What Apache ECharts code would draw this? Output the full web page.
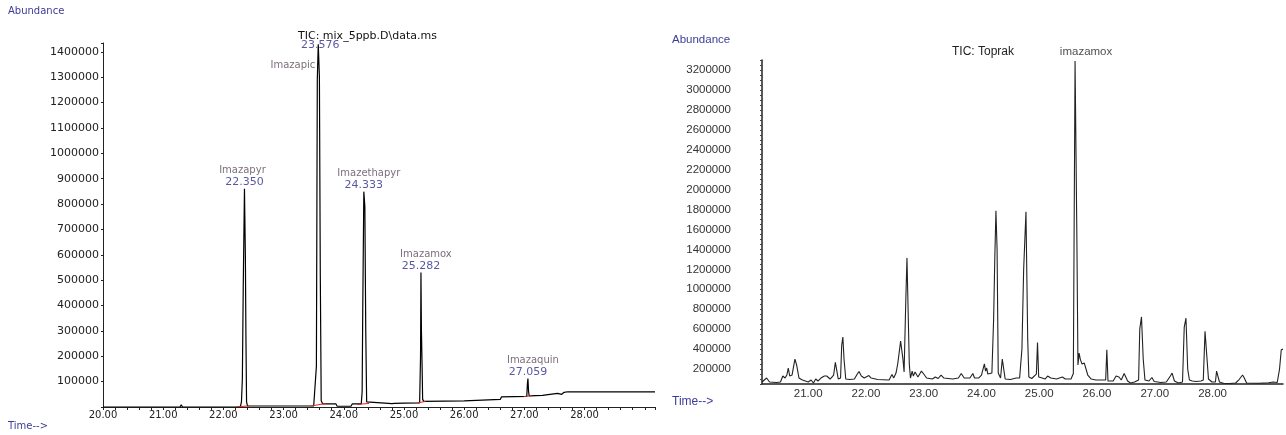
<!DOCTYPE html>
<html>
<head>
<meta charset="utf-8">
<script src="https://cdn.jsdelivr.net/npm/echarts@6/dist/echarts.min.js"></script>
<style>html,body{margin:0;padding:0;background:#fff}#c{width:1286px;height:435px}</style>
</head>
<body>
<div id="c"></div>
<script>
// ---------- Left chromatogram: TIC mix_5ppb ----------
const leftTime = [20.00,21.28,21.30,21.32,22.28,22.30,22.315,22.33,22.35,22.365,22.375,22.385,22.40,22.90,22.92,22.94,23.50,23.545,23.56,23.576,23.595,23.61,23.625,23.65,23.78,23.80,23.83,23.87,23.89,24.12,24.14,24.29,24.305,24.315,24.333,24.35,24.365,24.38,24.40,24.80,24.82,24.84,25.00,25.26,25.275,25.282,25.29,25.30,25.31,25.33,26.00,26.02,26.60,26.62,26.64,27.04,27.05,27.059,27.07,27.08,27.30,27.32,27.55,27.58,27.62,27.66,27.72,29.00,29.02,29.05,29.17];
const leftAbund = [0,0,9000,0,0,20000,110000,480000,860000,600000,260000,20000,4000,4000,10000,4000,4000,160000,1290000,1430000,1300000,513000,25000,12000,12000,5000,12000,12000,3000,3000,12000,12000,60000,380000,849000,790000,300000,20000,13000,13000,16000,14000,15000,16000,200000,530000,300000,175000,30000,22000,24000,28000,30000,40000,37000,42000,90000,112000,60000,44000,46000,52000,54000,58000,50000,58000,60000,60000,64000,60000,60000];
// integration baseline marks (red)
const leftBaseStart = [[22.22,1000],[23.46,4000],[24.22,10000],[25.22,16000],[26.99,41000]];
const leftBaseEnd   = [[22.42,4000],[23.70,14000],[24.42,14000],[25.36,22000],[27.12,45000]];
// peak annotations
const peakNames = ['Imazapyr','Imazapic','Imazethapyr','Imazamox','Imazaquin'];
const peakTimes = [22.350,23.576,24.333,25.282,27.059];
const peakHeights = [860000,1430000,849000,530000,112000];
const leftYTicks = [100000,200000,300000,400000,500000,600000,700000,800000,900000,1000000,1100000,1200000,1300000,1400000];
const leftXTicks = ['20.00','21.00','22.00','23.00','24.00','25.00','26.00','27.00','28.00'];

// ---------- Right chromatogram: TIC Toprak ----------
const rightTime = [20.20,20.28,20.33,20.45,20.52,20.56,20.60,20.63,20.655,20.68,20.72,20.77,20.80,20.84,20.90,20.95,21.00,21.05,21.09,21.13,21.17,21.22,21.28,21.32,21.38,21.44,21.47,21.50,21.52,21.56,21.58,21.60,21.62,21.65,21.72,21.80,21.85,21.88,21.92,21.97,22.05,22.09,22.20,22.40,22.45,22.48,22.52,22.55,22.57,22.60,22.62,22.64,22.66,22.69,22.71,22.73,22.75,22.77,22.80,22.82,22.85,22.90,22.96,23.00,23.05,23.15,23.20,23.25,23.30,23.35,23.50,23.60,23.65,23.70,23.80,23.85,23.88,23.95,24.00,24.05,24.07,24.09,24.11,24.18,24.21,24.23,24.25,24.27,24.29,24.33,24.36,24.38,24.41,24.50,24.60,24.63,24.66,24.70,24.73,24.77,24.80,24.82,24.87,24.95,24.97,24.99,25.05,25.10,25.145,25.20,25.30,25.40,25.45,25.55,25.59,25.62,25.65,25.67,25.69,25.71,25.74,25.78,25.84,25.90,25.98,26.10,26.15,26.17,26.19,26.28,26.33,26.38,26.42,26.47,26.50,26.53,26.58,26.65,26.72,26.74,26.77,26.80,26.83,26.90,26.95,26.99,27.05,27.10,27.20,27.27,27.30,27.34,27.41,27.48,27.51,27.54,27.57,27.60,27.65,27.71,27.80,27.84,27.87,27.90,27.93,27.99,28.05,28.07,28.10,28.12,28.20,28.30,28.40,28.46,28.52,28.55,28.59,28.80,28.97,29.05,29.12,29.16,29.19,29.22];
const rightAbund = [70000,110000,70000,65000,70000,130000,110000,140000,210000,130000,140000,300000,240000,110000,90000,80000,70000,90000,60000,100000,80000,110000,130000,130000,100000,140000,267000,267000,100000,110000,440000,520000,300000,100000,95000,100000,150000,176000,130000,110000,135000,110000,95000,90000,145000,110000,160000,253000,250000,480000,487000,300000,170000,900000,1315000,1300000,250000,110000,180000,130000,170000,120000,180000,150000,110000,100000,120000,105000,140000,110000,100000,110000,155000,110000,110000,155000,110000,110000,140000,253000,180000,210000,150000,160000,700000,1300000,1788000,1400000,160000,110000,300000,290000,100000,95000,110000,130000,110000,400000,1200000,1778000,500000,120000,105000,150000,467000,120000,110000,100000,130000,110000,100000,120000,100000,100000,155000,3290000,1600000,240000,360000,300000,250000,260000,140000,100000,90000,90000,90000,394000,80000,80000,130000,120000,90000,155000,160000,80000,60000,70000,90000,600000,723000,300000,90000,80000,115000,75000,70000,65000,70000,130000,160000,80000,60000,70000,620000,710000,200000,90000,80000,75000,80000,90000,578000,590000,100000,70000,70000,180000,180000,70000,55000,55000,60000,95000,140000,110000,60000,58000,62000,70000,65000,200000,394000,400000];
const rightPeakName = 'imazamox';
const rightPeakTime = 25.62;
const rightPeakHeight = 3290000;
const rightYTicks = [200000,400000,600000,800000,1000000,1200000,1400000,1600000,1800000,2000000,2200000,2400000,2600000,2800000,3000000,3200000];
const rightXTicks = ['21.00','22.00','23.00','24.00','25.00','26.00','27.00','28.00'];

// ---------- build ----------
const zip = (a, b) => a.map((v, i) => [v, b[i]]);
const leftLine = zip(leftTime, leftAbund);
const rightLine = zip(rightTime, rightAbund);
const redMarks = [];
leftBaseStart.forEach((p, i) => { redMarks.push(p, leftBaseEnd[i], null); });

const near = (v, list) => list.some(t => Math.abs(v - t) < 1e-6 * Math.max(1, Math.abs(t)));
const LF = 'DejaVu Sans';
const RF = 'Liberation Sans, Arial';

const peakData = [];
peakNames.forEach((n, i) => {
  const t = peakTimes[i].toFixed(3);
  if (n === 'Imazapic') {
    peakData.push({ value: [peakTimes[i], peakHeights[i]], label: { position: 'inside', offset: [2, 1], formatter: '{t|' + t + '}' } });
    peakData.push({ value: [peakTimes[i], peakHeights[i]], label: { position: 'left', distance: 3, offset: [0, 21], formatter: '{n|' + n + '}' } });
  } else {
    const pad = n === 'Imazapyr' ? [0, 4, 0, 0] : [0, 0, 0, 10];
    peakData.push({ value: [peakTimes[i], peakHeights[i]], label: { position: 'top', distance: 1, formatter: '{n|' + n + '}\n{t|' + t + '}', rich: { n: { fontFamily: LF, fontSize: 10, color: '#5a4a58', lineHeight: 12, padding: pad }, t: { fontFamily: LF, fontSize: 11, color: '#2e2e8a', lineHeight: 11 } } } });
  }
});

const chart = echarts.init(document.getElementById('c'), null, { renderer: 'canvas' });
chart.setOption({
  animation: false,
  backgroundColor: '#ffffff',
  title: [
    { text: 'Abundance', left: 8, top: 6, padding: 0, textStyle: { fontFamily: LF, fontSize: 10, fontWeight: 'normal', color: '#3c3c96' } },
    { text: 'Time-->', left: 8, top: 421, padding: 0, textStyle: { fontFamily: LF, fontSize: 10, fontWeight: 'normal', color: '#3c3c96' } },
    { text: 'TIC: mix_5ppb.D\\data.ms', left: 298, top: 31, padding: 0, textStyle: { fontFamily: LF, fontSize: 11, fontWeight: 'normal', color: '#111' } },
    { text: 'Abundance', left: 672, top: 34, padding: 0, textStyle: { fontFamily: RF, fontSize: 11.5, fontWeight: 'normal', color: '#3c3c9a' } },
    { text: 'Time-->', left: 672, top: 396, padding: 0, textStyle: { fontFamily: RF, fontSize: 12, fontWeight: 'normal', color: '#3c3c9a' } },
    { text: 'TIC: Toprak', left: 952, top: 46, padding: 0, textStyle: { fontFamily: RF, fontSize: 12, fontWeight: 'normal', color: '#222' } }
  ],
  grid: [
    { left: 103, top: 43, width: 552, height: 364, containLabel: false },
    { left: 762, top: 60, width: 522, height: 324, containLabel: false }
  ],
  xAxis: [
    { gridIndex: 0, type: 'value', min: 20, max: 29.17, interval: 1,
      axisLine: { onZero: false, lineStyle: { color: '#222', width: 1 } },
      axisTick: { show: true, length: 3, lineStyle: { color: '#222' } },
      minorTick: { show: true, splitNumber: 5, length: 3, lineStyle: { color: '#222' } },
      splitLine: { show: false },
      axisLabel: { margin: 3, fontFamily: LF, fontSize: 10, color: '#222', showMaxLabel: true,
        formatter: v => { const s = v.toFixed(2); return leftXTicks.includes(s) ? s : ''; } } },
    { gridIndex: 1, type: 'value', min: 20.2, max: 29.22, interval: 0.2,
      axisLine: { onZero: false, lineStyle: { color: '#222', width: 1.5 } },
      axisTick: { show: false },
      splitLine: { show: false },
      axisLabel: { margin: 4, fontFamily: RF, fontSize: 11.5, color: '#333',
        formatter: v => { const s = (Math.round(v * 100) / 100).toFixed(2); return rightXTicks.includes(s) && Math.abs(v - Math.round(v)) < 1e-6 ? s : ''; } } }
  ],
  yAxis: [
    { gridIndex: 0, type: 'value', min: 0, max: 1435000, interval: 100000,
      axisLine: { show: true, onZero: false, lineStyle: { color: '#222', width: 1 } },
      axisTick: { show: true, length: 2, lineStyle: { color: '#222' } },
      splitLine: { show: false },
      axisLabel: { margin: 4, fontFamily: LF, fontSize: 11, color: '#222',
        formatter: v => near(v, leftYTicks) ? String(Math.round(v)) : '' } },
    { gridIndex: 1, type: 'value', min: 50000, max: 3300000, interval: 50000,
      axisLine: { show: true, onZero: false, lineStyle: { color: '#222', width: 1.5 } },
      axisTick: { show: true, length: 2, lineStyle: { color: '#444' } },
      splitLine: { show: false },
      axisLabel: { margin: 31, fontFamily: RF, fontSize: 11.5, color: '#333',
        formatter: v => near(v, rightYTicks) ? String(Math.round(v)) : '' } }
  ],
  series: [
    { type: 'line', xAxisIndex: 0, yAxisIndex: 0, data: leftLine, symbol: 'none', silent: true,
      lineStyle: { color: '#000', width: 1.2 }, z: 3 },
    { type: 'line', xAxisIndex: 0, yAxisIndex: 0, data: redMarks, symbol: 'none', silent: true, connectNulls: false,
      lineStyle: { color: '#d22', width: 1 }, z: 4 },
    { type: 'scatter', xAxisIndex: 0, yAxisIndex: 0, data: peakData, symbolSize: 0, silent: true, z: 5,
      label: { show: true, rich: { n: { fontFamily: LF, fontSize: 10, color: '#5a4a58' }, t: { fontFamily: LF, fontSize: 11, color: '#2e2e8a' } } } },
    { type: 'line', xAxisIndex: 1, yAxisIndex: 1, data: rightLine, symbol: 'none', silent: true,
      lineStyle: { color: '#222', width: 1.1 }, z: 3 },
    { type: 'scatter', xAxisIndex: 1, yAxisIndex: 1, data: [[rightPeakTime, rightPeakHeight]], symbolSize: 0, silent: true, z: 5,
      label: { show: true, position: 'top', distance: 3, offset: [11, 0], formatter: rightPeakName,
        fontFamily: RF, fontSize: 11.5, color: '#222' } }
  ]
});
</script>
</body>
</html>
